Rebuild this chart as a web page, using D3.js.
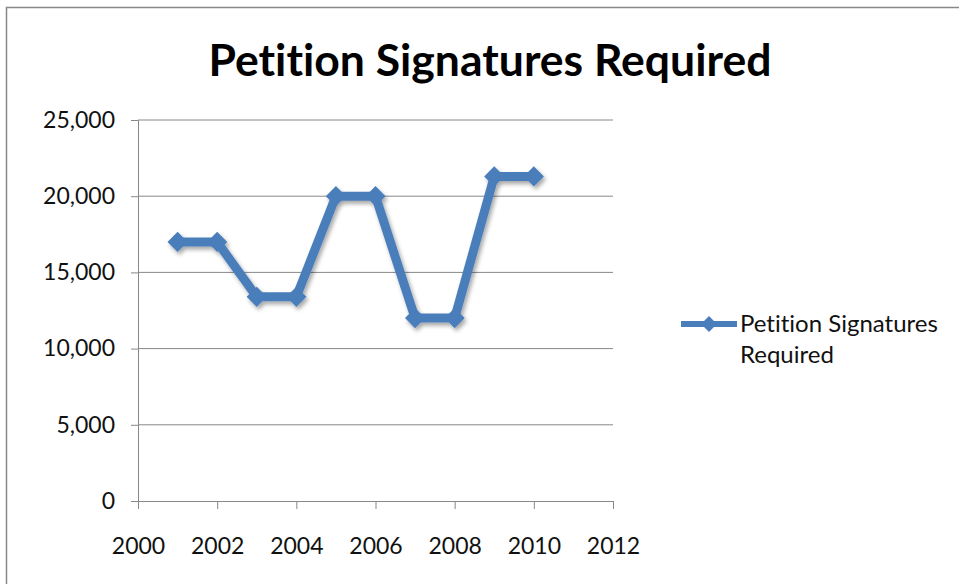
<!DOCTYPE html>
<html><head><meta charset="utf-8">
<script src="https://cdn.jsdelivr.net/npm/d3@7"></script>
<style>body{margin:0;background:#fff;}svg{display:block;} text{font-variant-ligatures:none;font-feature-settings:"liga" 0;}</style>
</head><body>
<svg id="chart" width="959" height="584"></svg>
<script>
const years = [2001,2002,2003,2004,2005,2006,2007,2008,2009,2010];
const signatures = [17000,17000,13400,13400,20000,20000,12000,12000,21300,21300];
const xTicks = [2000,2002,2004,2006,2008,2010,2012];
const yTicks = [0,5000,10000,15000,20000,25000];
const title = "Petition Signatures Required";
const seriesName = ["Petition Signatures", "Required"];

const svg = d3.select("#chart");
const font = "Lato, 'Open Sans', sans-serif";
const blue = "#4a7ebb";

const defs = svg.append("defs");
const f = defs.append("filter").attr("id","sh").attr("x","-20%").attr("y","-20%").attr("width","140%").attr("height","140%");
f.append("feDropShadow").attr("dx",2).attr("dy",3).attr("stdDeviation",2).attr("flood-color","#000").attr("flood-opacity",0.35);

svg.append("rect").attr("x",6.5).attr("y",7.5).attr("width",1000).attr("height",1000)
  .attr("fill","#fff").attr("stroke","#888").attr("stroke-width",1.5);

svg.append("text").attr("x",490).attr("y",76).attr("text-anchor","middle")
  .attr("font-family",font).attr("font-weight","bold").attr("font-size",44.5).attr("fill","#000").text(title);

const x = d3.scaleLinear().domain([2000,2012]).range([138,613]);
const y = d3.scaleLinear().domain([0,25000]).range([501,120]);

// gridlines
svg.append("g").selectAll("line").data(yTicks.filter(d=>d>0)).join("line")
  .attr("x1",x(2000)).attr("x2",x(2012)).attr("y1",d=>y(d)).attr("y2",d=>y(d))
  .attr("stroke","#888").attr("stroke-width",1);

const yAxis = svg.append("g").attr("transform",`translate(${x(2000)},0)`)
  .call(d3.axisLeft(y).tickValues(yTicks).tickSize(7).tickPadding(16).tickFormat(d3.format(",")));
const xAxis = svg.append("g").attr("transform",`translate(0,${y(0)})`)
  .call(d3.axisBottom(x).tickValues(xTicks).tickSize(8).tickPadding(29).tickFormat(d3.format("d")));
[yAxis,xAxis].forEach(a=>{
  a.select(".domain").attr("stroke","#888").attr("stroke-width",1);
  a.selectAll(".tick line").attr("stroke","#888");
  a.selectAll("text").attr("font-family",font).attr("font-size",23).attr("fill","#111");
});

const data = years.map((yr,i)=>({yr, v:signatures[i]}));
const g = svg.append("g").attr("filter","url(#sh)");
g.append("path").datum(data)
  .attr("d", d3.line().x(d=>x(d.yr)).y(d=>y(d.v)))
  .attr("fill","none").attr("stroke",blue).attr("stroke-width",9).attr("stroke-linejoin","round");
const diamond = d3.symbol().type(d3.symbolDiamond2).size(260);
g.selectAll("path.m").data(data).join("path").attr("class","m")
  .attr("transform",d=>`translate(${x(d.yr)},${y(d.v)})`)
  .attr("d",diamond).attr("fill",blue);

// legend
const lg = svg.append("g");
lg.append("line").attr("x1",681).attr("x2",737).attr("y1",324).attr("y2",324)
  .attr("stroke",blue).attr("stroke-width",6);
lg.append("path").attr("transform","translate(709,324)").attr("d",d3.symbol().type(d3.symbolDiamond2).size(160)).attr("fill",blue);
lg.selectAll("text").data(seriesName).join("text")
  .attr("x",740).attr("y",(d,i)=>332+i*31)
  .attr("font-family",font).attr("font-size",24).attr("fill","#111").text(d=>d);
</script>
</body></html>
